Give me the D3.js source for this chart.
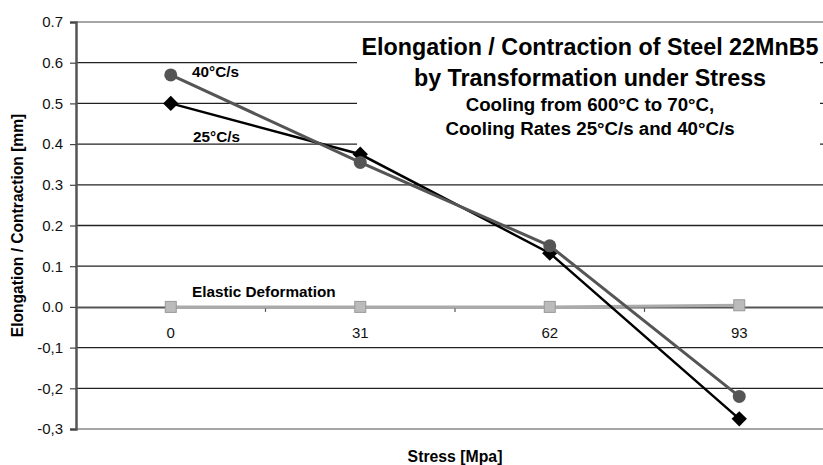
<!DOCTYPE html>
<html><head><meta charset="utf-8">
<script src="https://cdn.jsdelivr.net/npm/d3@7/dist/d3.min.js"></script>
<style>
body{margin:0;background:#fff;}
svg{display:block;font-family:"Liberation Sans",Arial,sans-serif;}
</style></head><body>
<svg id="c" width="823" height="465"></svg>
<script>
const categories = ["0","31","62","93"];
const rate25 = [0.50, 0.375, 0.132, -0.275];
const rate40 = [0.57, 0.355, 0.150, -0.220];
const elastic = [0, 0, 0, 0.004];
const yTicks = [0.7,0.6,0.5,0.4,0.3,0.2,0.1,0.0,-0.1,-0.2,-0.3];
const yTickLabels = ["0.7","0.6","0.5","0.4","0.3","0.2","0.1","0.0","-0,1","-0,2","-0,3"];
const titleLines = ["Elongation / Contraction of Steel 22MnB5","by Transformation under Stress","Cooling from 600°C to 70°C,","Cooling Rates 25°C/s and 40°C/s"];

const svg = d3.select("#c");
const L=76, R=834, T=22, B=429;
const x = d3.scaleBand().domain(categories).range([L,R]).padding(0);
const y = d3.scaleLinear().domain([-0.3,0.7]).range([B,T]);
const cx = c => x(c)+x.bandwidth()/2;

// gridlines
svg.append("g").selectAll("line").data(yTicks.filter(v=>v!==0)).join("line")
  .attr("x1",L).attr("x2",R).attr("y1",d=>y(d)).attr("y2",d=>y(d))
  .attr("stroke",d=> (d===0.7||d===-0.3)?"#888":"#222").attr("stroke-width",d=> (d===0.7||d===-0.3)?1.5:1.3);

// title box (covers gridlines)
svg.append("rect").attr("x",357).attr("y",30).attr("width",463).attr("height",130).attr("fill","#fff");
const tg = svg.append("g").attr("text-anchor","middle").attr("font-weight","bold").attr("fill","#000");
const tys=[55,86,111,135], tfs=[23.3,23.3,18.7,18.7];
titleLines.forEach((t,i)=>tg.append("text").attr("x",590).attr("y",tys[i]).attr("font-size",tfs[i]).text(t));

// y axis
const yAxis = d3.axisLeft(y).tickValues(yTicks).tickSize(6).tickFormat((d,i)=>yTickLabels[i]);
const ya = svg.append("g").attr("transform",`translate(${L},0)`).call(yAxis);
ya.select(".domain").attr("stroke","#555").attr("stroke-width",2.5);
ya.selectAll(".tick line").attr("stroke","#444").attr("stroke-width",1.2);
ya.selectAll(".tick text").attr("font-size",15).attr("fill","#111").attr("font-family","Liberation Sans, Arial, sans-serif").attr("x",-13);

// x axis at y=0
const xa = svg.append("g").attr("transform",`translate(0,${y(0)})`)
  .call(d3.axisBottom(x).tickSize(0).tickPadding(20));
xa.select(".domain").attr("stroke","#555").attr("stroke-width",2);
xa.selectAll(".tick text").attr("font-size",15).attr("fill","#111").attr("font-family","Liberation Sans, Arial, sans-serif");
// between-category tick marks
svg.append("g").selectAll("line").data(categories.slice(1)).join("line")
  .attr("x1",d=>x(d)).attr("x2",d=>x(d)).attr("y1",y(0)).attr("y2",y(0)+5)
  .attr("stroke","#555").attr("stroke-width",1.2);

const line = d3.line().x((d,i)=>cx(categories[i])).y(d=>y(d));

// elastic series
svg.append("path").datum(elastic).attr("d",line).attr("fill","none").attr("stroke","#aaa").attr("stroke-width",3);
svg.append("g").selectAll("rect").data(elastic).join("rect")
  .attr("x",(d,i)=>cx(categories[i])-5.5).attr("y",d=>y(d)-5.5).attr("width",11).attr("height",11)
  .attr("fill","#bbb").attr("stroke","#999").attr("stroke-width",1);

// 25 C/s black
svg.append("path").datum(rate25).attr("d",line).attr("fill","none").attr("stroke","#000").attr("stroke-width",2.5);
svg.append("g").selectAll("path").data(rate25).join("path")
  .attr("d",d3.symbol(d3.symbolDiamond2,150))
  .attr("transform",(d,i)=>`translate(${cx(categories[i])},${y(d)})`)
  .attr("fill","#000");

// 40 C/s gray
svg.append("path").datum(rate40).attr("d",line).attr("fill","none").attr("stroke","#555").attr("stroke-width",3);
svg.append("g").selectAll("circle").data(rate40).join("circle")
  .attr("cx",(d,i)=>cx(categories[i])).attr("cy",d=>y(d)).attr("r",6.5).attr("fill","#555");

// series labels
const lg = svg.append("g").attr("font-weight","bold").attr("font-size",15.3).attr("fill","#000");
lg.append("text").attr("x",192).attr("y",77).text("40°C/s");
lg.append("text").attr("x",193).attr("y",142).text("25°C/s");
lg.append("text").attr("x",192).attr("y",297).text("Elastic Deformation");

// axis titles
svg.append("text").attr("x",455).attr("y",462).attr("text-anchor","middle").attr("font-weight","bold").attr("font-size",15.8).text("Stress [Mpa]");
svg.append("text").attr("transform",`translate(23,${(T+B)/2}) rotate(-90)`).attr("text-anchor","middle").attr("font-weight","bold").attr("font-size",15.6).text("Elongation / Contraction [mm]");
</script></body></html>
